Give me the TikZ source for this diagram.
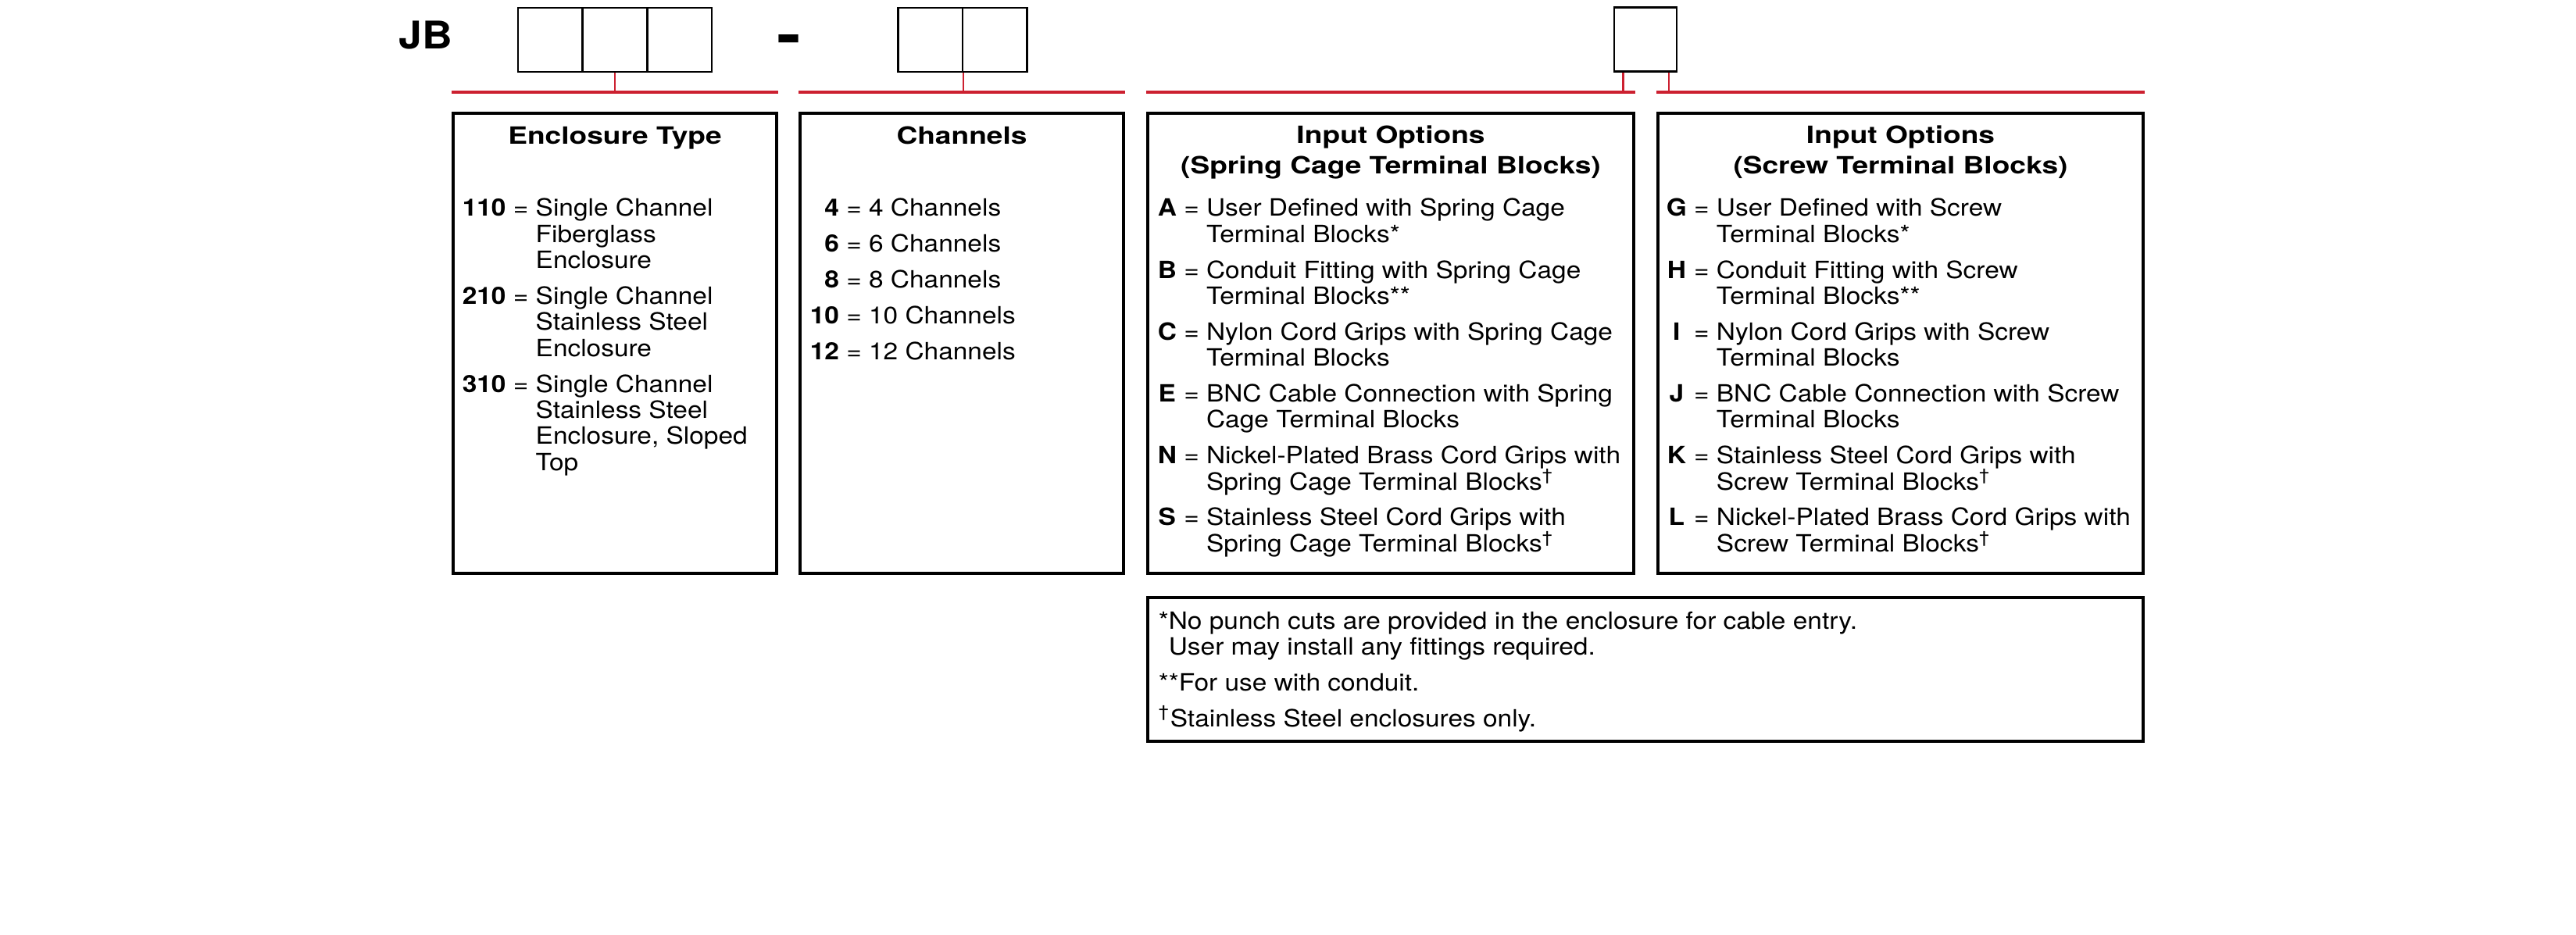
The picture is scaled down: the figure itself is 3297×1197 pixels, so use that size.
\documentclass[tikz,border=0pt]{standalone}
\usepackage{fontspec}
\setmainfont{TeX Gyre Heros}[FakeStretch=1.1]
\newfontfamily\headfont{TeX Gyre Heros}[FakeStretch=1.22]
\usepackage{tikz}
\usetikzlibrary{calc}
\definecolor{codered}{RGB}{204,32,48}

\tikzset{
  slot/.style={draw, line width=0.6pt, inner sep=0pt,
    minimum width=82.7*\pxl, minimum height=82*\pxl},
  group/.style={draw, line width=0.9pt, inner sep=0pt},
  bar/.style={draw=codered, line width=1pt},
  stub/.style={draw=codered, line width=0.6pt},
  txt/.style={inner sep=0pt, anchor=base west,
    font=\fontsize{7.6pt}{8.35pt}\selectfont},
  head/.style={inner sep=0pt, anchor=base,
    font=\headfont\bfseries\fontsize{7.6pt}{9.75pt}\selectfont},
}
\newcommand{\dg}{\smash{\textsuperscript{\textdagger}}}

\begin{document}
\begin{tikzpicture}[x=0.25pt, y=-0.25pt]
  \def\pxl{0.25pt}
  \def\gap{3.1pt}
  \def\bary{118}

  \useasboundingbox (0,0) rectangle (3297,1197);

  % part number
  \node[inner sep=0pt, anchor=base west,
    font=\bfseries\fontsize{12.2pt}{14pt}\selectfont] (jb) at (510,63) {JB};
  \node (e1) [slot] at (704.3,51.2) {};
  \node (e2) [slot] at (787,51.2) {};
  \node (e3) [slot] at (869.7,51.2) {};
  \node[inner sep=0pt, anchor=base west,
    font=\headfont\bfseries\fontsize{19pt}{22pt}\selectfont] (dash) at (994,71) {-};
  \node (c1) [slot] at (1190.7,51.2) {};
  \node (c2) [slot] at (1273.3,51.2) {};
  \node (opt) [slot, minimum width=80*\pxl] at (2106,50.5) {};

  % option boxes
  \node (enc)  [group, minimum width=414*\pxl, minimum height=589*\pxl] at (787,439.5) {};
  \node (chan) [group, minimum width=414*\pxl, minimum height=589*\pxl] at (1231,439.5) {};
  \node (spr)  [group, minimum width=622*\pxl, minimum height=589*\pxl] at (1780,439.5) {};
  \node (scr)  [group, minimum width=621*\pxl, minimum height=589*\pxl] at (2432.5,439.5) {};
  \node (note) [group, minimum width=1274*\pxl, minimum height=184*\pxl] at (2106,857) {};

  \coordinate (encbar)  at (787,\bary);
  \coordinate (chanbar) at (1231,\bary);
  \coordinate (sprbar)  at (1780,\bary);
  \coordinate (scrbar)  at (2432.5,\bary);
  \coordinate (optl) at ([xshift=12.5*\pxl]opt.south west);
  \coordinate (optr) at ([xshift=-11.5*\pxl]opt.south east);

  \draw[bar] (encbar -| enc.west) -- (encbar -| enc.east);
  \draw[bar] (chanbar -| chan.west) -- (chanbar -| chan.east);
  \draw[bar] (sprbar -| spr.west) -- (sprbar -| spr.east);
  \draw[bar] (scrbar -| scr.west) -- (scrbar -| scr.east);

  \draw[stub] (e2.south) -- (e2.south |- encbar);
  \draw[stub] (c1.south east) -- (c1.south east |- chanbar);
  \draw[stub] (optl) -- (optl |- sprbar);
  \draw[stub] (optr) -- (optr |- scrbar);

  % titles
  \node[head] (enct)  at (787,185) {Enclosure Type};
  \node[head] (chant) at (1231,185) {Channels};
  \node[head] (sprt)  at (1780,184) {\begin{tabular}[t]{@{}c@{}}
    Input Options\\ (Spring Cage Terminal Blocks)\end{tabular}};
  \node[head] (scrt)  at (2432.5,184) {\begin{tabular}[t]{@{}c@{}}
    Input Options\\ (Screw Terminal Blocks)\end{tabular}};

  % entries
  \node[txt] (encl) at (591,277) {\begin{tabular}[t]{@{}l@{\ }c@{\ }l@{}}
    \textbf{110} & = & Single Channel\\ & & Fiberglass\\ & & Enclosure\\[\gap]
    \textbf{210} & = & Single Channel\\ & & Stainless Steel\\ & & Enclosure\\[\gap]
    \textbf{310} & = & Single Channel\\ & & Stainless Steel\\ & & Enclosure, Sloped\\ & & Top
  \end{tabular}};
  \node[txt] (chanl) at (1036,277) {\begin{tabular}[t]{@{}r@{\ }c@{\ }l@{}}
    \textbf{4} & = & 4 Channels\\[\gap]
    \textbf{6} & = & 6 Channels\\[\gap]
    \textbf{8} & = & 8 Channels\\[\gap]
    \textbf{10} & = & 10 Channels\\[\gap]
    \textbf{12} & = & 12 Channels
  \end{tabular}};
  \node[txt] (sprl) at (1481,277) {\begin{tabular}[t]{@{}c@{\ }c@{\ }l@{}}
    \textbf{A} & = & User Defined with Spring Cage\\ & & Terminal Blocks*\\[\gap]
    \textbf{B} & = & Conduit Fitting with Spring Cage\\ & & Terminal Blocks**\\[\gap]
    \textbf{C} & = & Nylon Cord Grips with Spring Cage\\ & & Terminal Blocks\\[\gap]
    \textbf{E} & = & BNC Cable Connection with Spring\\ & & Cage Terminal Blocks\\[\gap]
    \textbf{N} & = & Nickel-Plated Brass Cord Grips with\\ & & Spring Cage Terminal Blocks\dg\\[\gap]
    \textbf{S} & = & Stainless Steel Cord Grips with\\ & & Spring Cage Terminal Blocks\dg
  \end{tabular}};
  \node[txt] (scrl) at (2132,277) {\begin{tabular}[t]{@{}c@{\ }c@{\ }l@{}}
    \textbf{G} & = & User Defined with Screw\\ & & Terminal Blocks*\\[\gap]
    \textbf{H} & = & Conduit Fitting with Screw\\ & & Terminal Blocks**\\[\gap]
    \textbf{I} & = & Nylon Cord Grips with Screw\\ & & Terminal Blocks\\[\gap]
    \textbf{J} & = & BNC Cable Connection with Screw\\ & & Terminal Blocks\\[\gap]
    \textbf{K} & = & Stainless Steel Cord Grips with\\ & & Screw Terminal Blocks\dg\\[\gap]
    \textbf{L} & = & Nickel-Plated Brass Cord Grips with\\ & & Screw Terminal Blocks\dg
  \end{tabular}};

  % footnotes
  \node[txt] (notel) at (1482,805) {\begin{tabular}[t]{@{}l@{}}
    *No punch cuts are provided in the enclosure for cable entry.\\
    \phantom{*}User may install any fittings required.\\[\gap]
    **For use with conduit.\\[\gap]
    \dg Stainless Steel enclosures only.
  \end{tabular}};
\end{tikzpicture}
\end{document}
